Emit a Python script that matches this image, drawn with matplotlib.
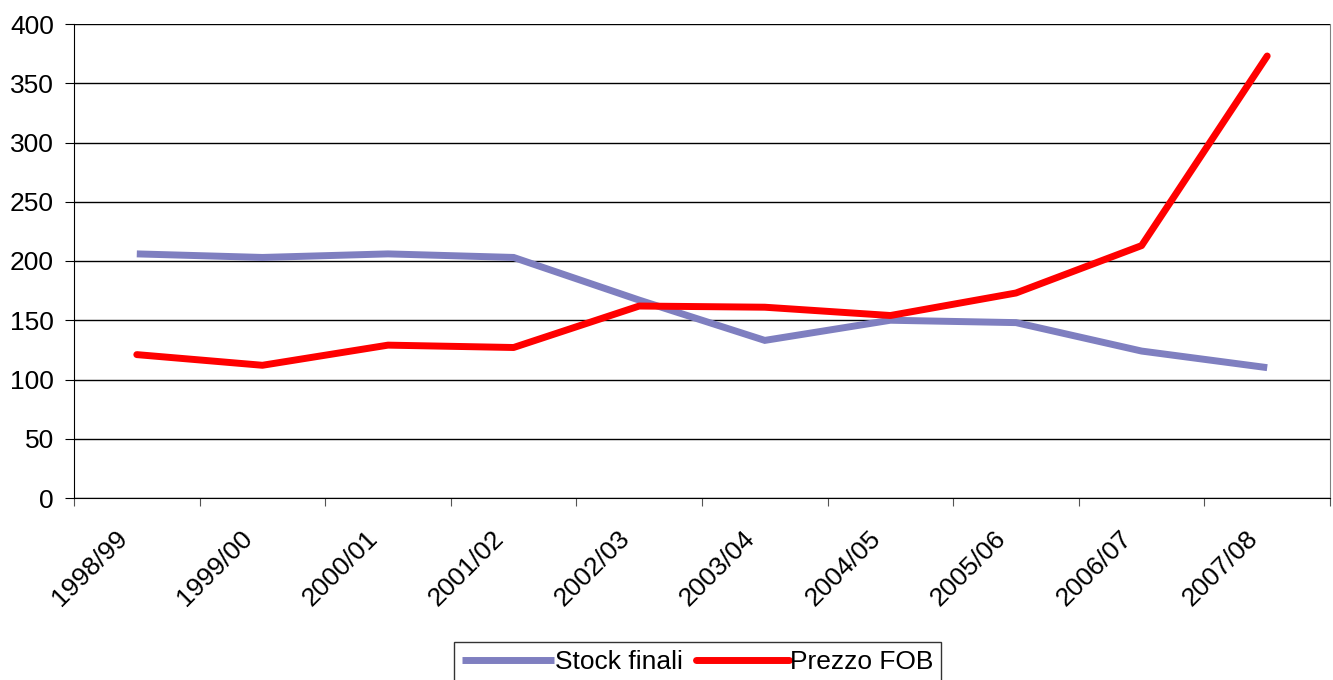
import matplotlib.pyplot as plt
import matplotlib.transforms as mtransforms
import numpy as np

plt.rcParams['font.family'] = ['Liberation Sans', 'DejaVu Sans']

annate = ['1998/99', '1999/00', '2000/01', '2001/02', '2002/03',
          '2003/04', '2004/05', '2005/06', '2006/07', '2007/08']
stock_finali = [206, 203, 206, 203, 167, 133, 150, 148, 124, 110]
prezzo_fob = [121, 112, 129, 127, 162, 161, 154, 173, 213, 373]

x = np.arange(len(annate)) + 0.5

fig = plt.figure(figsize=(13.33, 6.8), dpi=100)
ax = fig.add_axes([74 / 1333, 1 - 498 / 680, (1330 - 74) / 1333, (498 - 24) / 680])

ax.plot(x, stock_finali, color='#7f7fc0', lw=5, solid_capstyle='butt',
        solid_joinstyle='miter', label='Stock finali', zorder=3)
ax.plot(x, prezzo_fob, color='#ff0000', lw=5, solid_capstyle='round',
        label='Prezzo FOB', zorder=4)

ax.set_xlim(0, len(annate))
ax.set_ylim(0, 400)
ax.set_yticks(np.arange(0, 401, 50))
ax.yaxis.grid(True, color='black', lw=1)
ax.set_axisbelow(True)

# category ticks sit on the boundaries, labels in the middle
ax.set_xticks(np.arange(len(annate) + 1))
ax.set_xticklabels([])
ax.set_xticks(x, minor=True)
ax.set_xticklabels(annate, minor=True, rotation=45, ha='right', va='top',
                   rotation_mode='anchor', fontsize=19)
ax.tick_params(axis='x', which='minor', length=0, pad=20)
ax.tick_params(axis='x', which='major', length=6, direction='out', color='#555555')
ax.tick_params(axis='y', length=6.5, direction='out', labelsize=19, pad=8)

# nudge the slanted labels to the left (after tick_params, which resets transforms)
shift = mtransforms.ScaledTranslation(-22 / 100, 0, fig.dpi_scale_trans)
for lab in ax.get_xticklabels(minor=True):
    lab.set_transform(lab.get_transform() + shift)

ax.spines['top'].set_visible(False)
ax.spines['right'].set_color('#808080')
ax.spines['left'].set_color('black')
ax.spines['bottom'].set_color('black')

leg = fig.legend(loc='upper center', bbox_to_anchor=(697.5 / 1333, 1 - 642 / 680), ncol=2,
                 fontsize=19, frameon=True, fancybox=False, edgecolor='black',
                 handlelength=3.5, handletextpad=0.05, columnspacing=0.5,
                 borderpad=0.3, borderaxespad=0)
leg.get_frame().set_linewidth(1)

fig.savefig('out.png', dpi=100)
